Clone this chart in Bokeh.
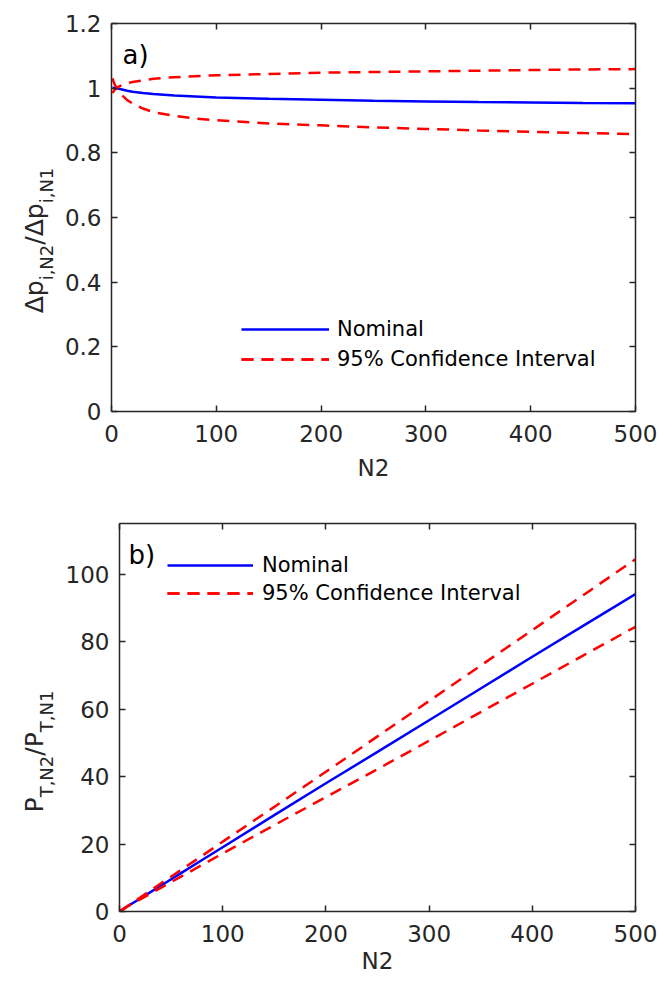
import numpy as np
from bokeh.plotting import figure
from bokeh.models import (LinearAxis, FixedTicker, NumeralTickFormatter, Label,
                          Legend, LegendItem, Range1d, CustomJSTickFormatter)
from bokeh.layouts import column, row
from bokeh.embed import file_html
from bokeh.resources import INLINE

# ---------------- data ----------------
N2 = [1, 2, 3, 5, 7, 10, 15, 20, 30, 40, 60, 80, 100, 150, 200, 250, 300, 350, 400, 450, 500]

dp_nominal = [1.002, 1.001, 1.000, 1.000, 0.998, 0.996, 0.992, 0.989, 0.985, 0.982, 0.977,
              0.974, 0.971, 0.967, 0.964, 0.961, 0.959, 0.957, 0.956, 0.954, 0.953]
dp_upper = [0.985, 0.990, 0.995, 1.000, 1.005, 1.010, 1.015, 1.019, 1.024, 1.029, 1.034,
            1.037, 1.040, 1.044, 1.048, 1.050, 1.052, 1.054, 1.056, 1.058, 1.059]
dp_lower = [1.030, 1.020, 1.012, 1.000, 0.990, 0.978, 0.963, 0.953, 0.937, 0.926, 0.914,
            0.906, 0.901, 0.891, 0.885, 0.879, 0.874, 0.869, 0.865, 0.861, 0.858]

pt_nominal = [0.2, 0.4, 0.6, 1.0, 1.4, 1.95, 2.9, 3.85, 5.75, 7.65, 11.45, 15.25, 19.05,
              28.55, 38.0, 47.3, 56.7, 66.1, 75.5, 84.8, 94.1]
pt_upper = [0.2, 0.4, 0.6, 1.0, 1.4, 2.05, 3.1, 4.15, 6.2, 8.3, 12.4, 16.5, 20.7,
            31.0, 41.4, 51.9, 62.4, 72.9, 83.4, 93.9, 104.4]
pt_lower = [0.2, 0.4, 0.6, 1.0, 1.4, 1.9, 2.7, 3.6, 5.3, 7.0, 10.4, 13.8, 17.2,
            25.6, 33.9, 42.2, 50.6, 59.1, 67.5, 76.0, 84.4]

x_ticks = [0, 100, 200, 300, 400, 500]
dp_ticks = [0, 0.2, 0.4, 0.6, 0.8, 1.0, 1.2]
pt_ticks = [0, 20, 40, 60, 80, 100]

FONT = "DejaVu Sans"
AX = "#262626"
BLUE = "#0000FF"
RED = "#FF0000"
LABEL_W = 60

# DejaVu Sans advance widths (em)
ADV = {"Δ": 0.684, "p": 0.635, "/": 0.337, "i": 0.278, ",": 0.318, "N": 0.748,
       "1": 0.636, "2": 0.636, "T": 0.611, "P": 0.603}


def tw(s, size):
    return sum(ADV[c] for c in s) * size


def style_axis(ax, ticks, labels=True):
    ax.ticker = FixedTicker(ticks=ticks)
    ax.axis_line_color = AX
    ax.axis_line_width = 1.5
    ax.major_tick_line_color = AX
    ax.major_tick_line_width = 1.5
    ax.major_tick_in = 6
    ax.major_tick_out = 0
    ax.minor_tick_line_color = None
    ax.major_label_text_font = FONT
    ax.major_label_text_color = AX
    ax.major_label_text_font_size = "23px"
    if not labels:
        ax.formatter = CustomJSTickFormatter(code="return ''")
        ax.major_label_standoff = 0


def make_fig(frame_w, frame_h, left, right, top, bottom, y_end, yticks, yfmt, label_standoff):
    p = figure(frame_width=frame_w, frame_height=frame_h,
               min_border_left=left, min_border_right=right,
               min_border_top=top, min_border_bottom=bottom,
               x_range=Range1d(0, 500), y_range=Range1d(0, y_end),
               output_backend="svg", toolbar_location=None,
               background_fill_color="white", border_fill_color="white")
    p.grid.visible = False
    p.outline_line_color = None
    xa = p.xaxis[0]
    style_axis(xa, x_ticks)
    xa.major_label_standoff = 13
    xa.axis_label = "N2"
    xa.axis_label_text_font = FONT
    xa.axis_label_text_font_style = "normal"
    xa.axis_label_text_font_size = "23px"
    xa.axis_label_text_color = AX
    xa.axis_label_standoff = label_standoff
    ya = p.yaxis[0]
    style_axis(ya, yticks)
    ya.major_label_standoff = 10
    ya.formatter = NumeralTickFormatter(format=yfmt)
    top_ax = LinearAxis()
    style_axis(top_ax, x_ticks, labels=False)
    right_ax = LinearAxis()
    style_axis(right_ax, yticks, labels=False)
    p.add_layout(top_ax, "above")
    p.add_layout(right_ax, "right")
    return p


def make_ylabel_fig(height, pieces, baseline_x, center_from_top, main_size, sub_size, sub_shift):
    f = figure(frame_width=LABEL_W, frame_height=height,
               min_border_left=0, min_border_right=0, min_border_top=0, min_border_bottom=0,
               x_range=Range1d(0, LABEL_W), y_range=Range1d(0, height),
               x_axis_location=None, y_axis_location=None,
               output_backend="svg", toolbar_location=None,
               background_fill_color="white", border_fill_color="white")
    f.grid.visible = False
    f.outline_line_color = None
    total = sum(tw(t, sub_size if s else main_size) for t, s in pieces)
    y = (height - center_from_top) - total / 2.0
    for t, s in pieces:
        size = sub_size if s else main_size
        f.add_layout(Label(x=baseline_x + (sub_shift if s else 0), y=y,
                           text=t, angle=np.pi / 2, text_font=FONT,
                           text_font_size=f"{size}px", text_color=AX,
                           text_baseline="alphabetic", text_align="left"))
        y += tw(t, size)
    return f


def add_legend(p, r_nom, r_ci, loc, gw, standoff, spacing):
    leg = Legend(items=[LegendItem(label="Nominal", renderers=[r_nom]),
                        LegendItem(label="95% Confidence Interval", renderers=r_ci)],
                 location=loc, glyph_width=gw, glyph_height=26, label_height=26,
                 label_standoff=standoff, spacing=spacing, padding=0, margin=0,
                 border_line_color=None, background_fill_alpha=0,
                 label_text_font=FONT, label_text_font_size="21px",
                 label_text_color="#000000")
    p.add_layout(leg)


# ---------------- panel a ----------------
H1 = 23 + 388 + 78
p1 = make_fig(524, 388, 111 - LABEL_W, 24, 23, 78, 1.2, dp_ticks, "0.[0]", 10)
r1n = p1.line(N2, dp_nominal, line_color=BLUE, line_width=2.5)
r1u = p1.line(N2, dp_upper, line_color=RED, line_width=2.5, line_dash="12 8")
r1l = p1.line(N2, dp_lower, line_color=RED, line_width=2.5, line_dash="12 8")
add_legend(p1, r1n, [r1u, r1l], (130, 39), 88, 8, 4)
p1.add_layout(Label(x=0, y=1.2, x_offset=11, y_offset=-31, text="a)", text_font=FONT,
                    text_font_size="26px", text_color="#000000", text_baseline="alphabetic"))
lab1 = make_ylabel_fig(H1, [("Δp", False), ("i,N2", True), ("/Δp", False), ("i,N1", True)],
                       baseline_x=33.5, center_from_top=217, main_size=25, sub_size=18,
                       sub_shift=12)

# ---------------- panel b ----------------
H2 = 34 + 388 + 70
p2 = make_fig(516, 388, 119 - LABEL_W, 24, 34, 70, 115, pt_ticks, "0", 3)
r2n = p2.line(N2, pt_nominal, line_color=BLUE, line_width=2.5)
r2u = p2.line(N2, pt_upper, line_color=RED, line_width=2.5, line_dash="12 8")
r2l = p2.line(N2, pt_lower, line_color=RED, line_width=2.5, line_dash="12 8")
add_legend(p2, r2n, [r2u, r2l], (48, 305), 86, 9, 2)
p2.add_layout(Label(x=0, y=115, x_offset=9, y_offset=-31, text="b)", text_font=FONT,
                    text_font_size="26px", text_color="#000000", text_baseline="alphabetic"))
lab2 = make_ylabel_fig(H2, [("P", False), ("T,N2", True), ("/P", False), ("T,N1", True)],
                       baseline_x=33.5, center_from_top=34 + 194, main_size=25, sub_size=18,
                       sub_shift=12)

layout = column(row(lab1, p1, spacing=0), row(lab2, p2, spacing=0), spacing=0)
open("out.html", "w").write(file_html(layout, INLINE))
